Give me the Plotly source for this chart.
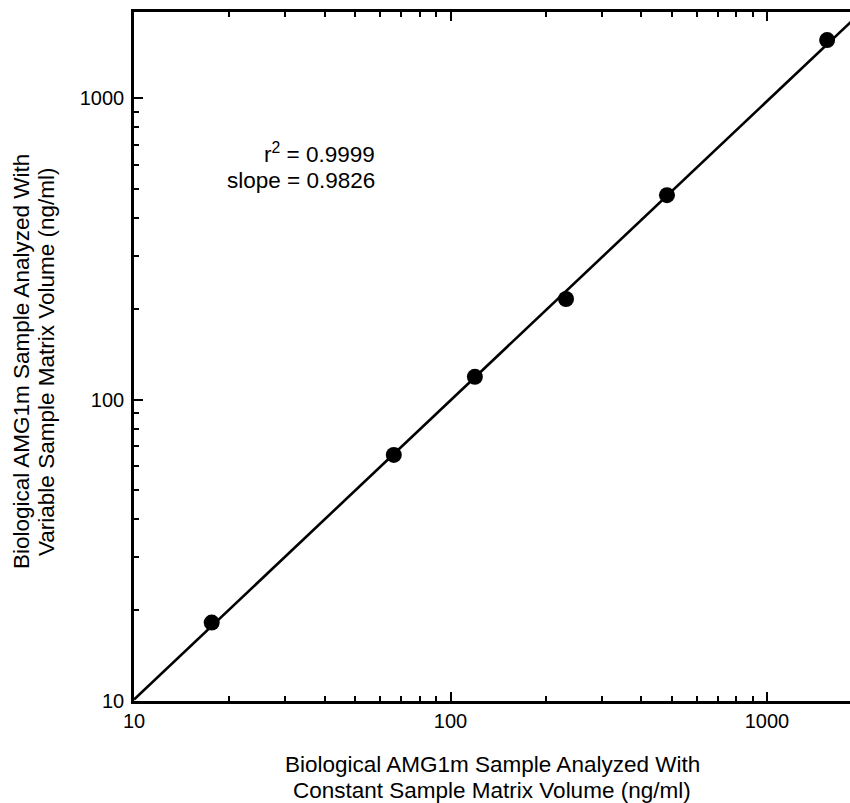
import numpy as np
import plotly.graph_objects as go

# Data (ng/ml)
constant_volume = [17.6, 66.2, 119.4, 231.7, 483.0, 1549.0]
variable_volume = [18.2, 65.5, 118.9, 215.4, 476.0, 1556.0]

r2_text = "r<sup>2</sup> = 0.9999"
slope_text = "slope = 0.9826"

x_major = [10, 100, 1000]
y_major = [10, 100, 1000]
minor_vals = [20, 30, 40, 50, 60, 70, 80, 90, 200, 300, 400, 500, 600, 700, 800, 900, 2000]

x_title_lines = ["Biological AMG1m Sample Analyzed With",
                 "Constant Sample Matrix Volume (ng/ml)"]
y_title_lines = ["Biological AMG1m Sample Analyzed With",
                 "Variable Sample Matrix Volume (ng/ml)"]

# Regression line (log-log fit through the points)
lx = np.log10(constant_volume)
ly = np.log10(variable_volume)
b, a = np.polyfit(lx, ly, 1)
fit_x = np.logspace(1, 3.4, 50)
fit_y = 10 ** (a + b * np.log10(fit_x))

FONT = "Liberation Sans, Arial, Helvetica, sans-serif"
TXT = 22.5

fig = go.Figure()
fig.add_trace(go.Scatter(x=fit_x, y=fit_y, mode="lines",
                         line=dict(color="black", width=2.6),
                         showlegend=False, hoverinfo="skip"))
fig.add_trace(go.Scatter(x=constant_volume, y=variable_volume, mode="markers",
                         marker=dict(color="black", size=16),
                         showlegend=False))

W, H = 850, 803
L, R, T, B = 134, 0, 12, 102
pw = W - L - R
ph = H - T - B

fig.update_layout(
    width=W, height=H,
    margin=dict(l=L, r=R, t=T, b=B, pad=0),
    paper_bgcolor="white", plot_bgcolor="white",
    font=dict(family=FONT, size=20, color="black"),
    xaxis=dict(type="log", range=[1, 1 + pw / 316.5],
               tickvals=x_major, ticktext=[str(v) for v in x_major],
               tickfont=dict(size=20),
               ticks="inside", ticklen=9, tickwidth=2, tickcolor="black",
               showline=True, linecolor="black", linewidth=2.6,
               mirror="ticks", showgrid=False, zeroline=False,
               ticklabelstandoff=0,
               minor=dict(tickvals=minor_vals, ticks="inside", ticklen=5,
                          tickwidth=1.5, tickcolor="black", showgrid=False)),
    yaxis=dict(type="log", range=[1, 1 + ph / 301.5],
               tickvals=y_major, ticktext=[str(v) for v in y_major],
               tickfont=dict(size=20),
               ticks="inside", ticklen=9, tickwidth=2, tickcolor="black",
               showline=True, linecolor="black", linewidth=2.6,
               mirror=False, showgrid=False, zeroline=False,
               ticklabelstandoff=3,
               minor=dict(tickvals=minor_vals, ticks="inside", ticklen=5,
                          tickwidth=1.5, tickcolor="black", showgrid=False)),
)

def px_x(x):
    return (x - L) / pw

def px_y(y):
    return (H - B - y) / ph

def ann(text, x, y, xanchor="center", angle=0):
    return dict(text=text, x=px_x(x), y=px_y(y), xref="paper", yref="paper",
                xanchor=xanchor, yanchor="middle", showarrow=False,
                textangle=angle, font=dict(size=TXT))

annotations = [
    ann(r2_text, 377, 153, xanchor="right"),
    ann(slope_text, 377, 181, xanchor="right"),
    ann(x_title_lines[0], 492, 764),
    ann(x_title_lines[1], 492, 790),
    ann(y_title_lines[0], 22, 362, angle=-90),
    ann(y_title_lines[1], 47, 362, angle=-90),
]
fig.update_layout(annotations=annotations)

fig.write_html("out.html", config={"displayModeBar": False},
               post_script="document.body.style.margin='0';document.body.style.overflow='hidden';")
